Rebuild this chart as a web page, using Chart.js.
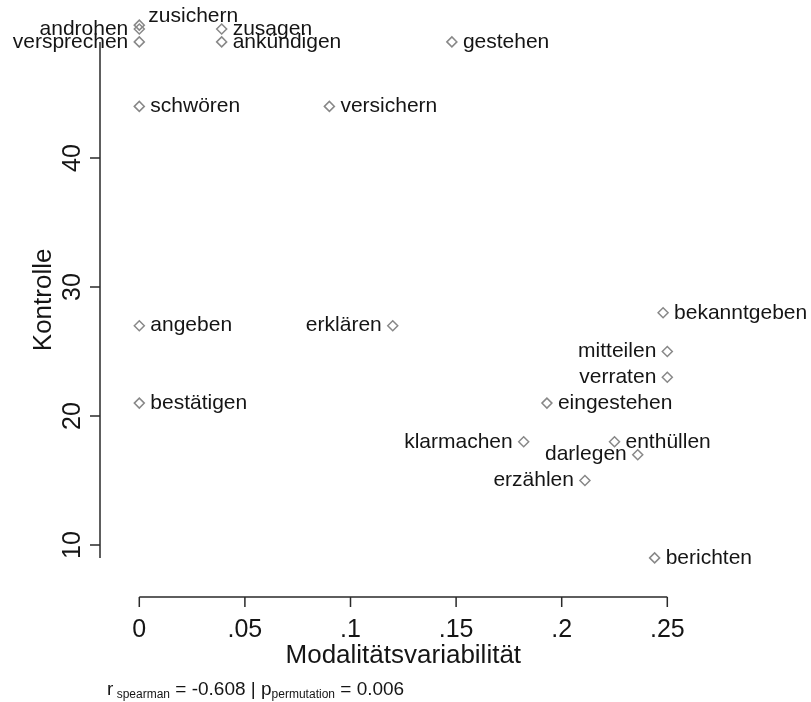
<!DOCTYPE html>
<html>
<head>
<meta charset="utf-8">
<script src="https://cdn.jsdelivr.net/npm/chart.js@4/dist/chart.umd.min.js"></script>
<style>
  body { margin: 0; background: #fff; }
  canvas { display: block; }
</style>
</head>
<body>
<canvas id="myChart" width="811" height="702"></canvas>
<script>
// Daten //
const verben = ['androhen', 'versprechen', 'zusichern', 'zusagen', 'ankündigen', 'gestehen',
    'schwören', 'versichern', 'angeben', 'erklären', 'bestätigen', 'bekanntgeben',
    'mitteilen', 'verraten', 'eingestehen', 'klarmachen', 'enthüllen', 'darlegen',
    'erzählen', 'berichten'];
const modalitaet = [0, 0, 0, 0.039, 0.039, 0.148,
    0, 0.09, 0, 0.12, 0, 0.248,
    0.25, 0.25, 0.193, 0.182, 0.225, 0.236,
    0.211, 0.244];
const kontrolle = [50, 49, 50.3, 50, 49, 49,
    44, 44, 27, 27, 21, 28,
    25, 23, 21, 18, 18, 17,
    15, 9];
// where the label sits: r = right, l = left, ur = above right
const labelSeite = ['l', 'l', 'ur', 'r', 'r', 'r',
    'r', 'r', 'r', 'l', 'r', 'r',
    'l', 'l', 'r', 'l', 'r', 'l',
    'l', 'r'];
const xTicks = [0, 0.05, 0.1, 0.15, 0.2, 0.25];
const xTickLabels = ['0', '.05', '.1', '.15', '.2', '.25'];
const yTicks = [10, 20, 30, 40];
const yLinie = [9, 49];

const schrift = '"Liberation Sans", Arial, sans-serif';

const achsen = {
    id: 'achsen',
    afterDraw(chart) {
        const c = chart.ctx;
        const xs = chart.scales.x;
        const ys = chart.scales.y;
        const unten = chart.chartArea.bottom;
        const links = chart.chartArea.left;
        c.save();
        c.strokeStyle = '#2a2a2a';
        c.lineWidth = 1.5;
        c.fillStyle = '#151515';

        // x Achse
        c.beginPath();
        c.moveTo(xs.getPixelForValue(xTicks[0]), unten);
        c.lineTo(xs.getPixelForValue(xTicks[xTicks.length - 1]), unten);
        xTicks.forEach(v => {
            const px = xs.getPixelForValue(v);
            c.moveTo(px, unten);
            c.lineTo(px, unten + 10);
        });
        c.stroke();
        c.font = '25px ' + schrift;
        c.textAlign = 'center';
        c.textBaseline = 'alphabetic';
        xTicks.forEach((v, i) => {
            c.fillText(xTickLabels[i], xs.getPixelForValue(v), 637);
        });
        c.font = '26px ' + schrift;
        c.fillText('Modalitätsvariabilität',
            (xs.getPixelForValue(xTicks[0]) + xs.getPixelForValue(xTicks[xTicks.length - 1])) / 2, 663);

        // y Achse
        c.beginPath();
        c.moveTo(links, ys.getPixelForValue(yLinie[0]));
        c.lineTo(links, ys.getPixelForValue(yLinie[1]));
        yTicks.forEach(v => {
            const py = ys.getPixelForValue(v);
            c.moveTo(links, py);
            c.lineTo(links - 10, py);
        });
        c.stroke();
        c.font = '25px ' + schrift;
        yTicks.forEach(v => {
            c.save();
            c.translate(80, ys.getPixelForValue(v));
            c.rotate(-Math.PI / 2);
            c.fillText(String(v), 0, 0);
            c.restore();
        });
        c.save();
        c.font = '26px ' + schrift;
        c.translate(51, (ys.getPixelForValue(yLinie[0]) + ys.getPixelForValue(yLinie[1])) / 2);
        c.rotate(-Math.PI / 2);
        c.fillText('Kontrolle', 0, 0);
        c.restore();

        // Beschriftung der Punkte
        c.font = '21px ' + schrift;
        c.textBaseline = 'middle';
        verben.forEach((w, i) => {
            const px = xs.getPixelForValue(modalitaet[i]);
            const py = ys.getPixelForValue(kontrolle[i]);
            if (labelSeite[i] == 'l') {
                c.textAlign = 'right';
                c.fillText(w, px - 11, py);
            } else if (labelSeite[i] == 'ur') {
                c.textAlign = 'left';
                c.fillText(w, px + 9, py - 9);
            } else {
                c.textAlign = 'left';
                c.fillText(w, px + 11, py);
            }
        });

        // Fusszeile
        c.textAlign = 'left';
        c.textBaseline = 'alphabetic';
        let x = 107;
        const teile = [
            ['r', 19, 695], [' ', 12, 698], ['spearman', 12, 698],
            [' = -0.608 | p', 19, 695], ['permutation', 12, 698], [' = 0.006', 19, 695]
        ];
        teile.forEach(t => {
            c.font = t[1] + 'px ' + schrift;
            c.fillText(t[0], x, t[2]);
            x += c.measureText(t[0]).width;
        });
        c.restore();
    }
};

const ctx = document.getElementById('myChart');

new Chart(ctx, {
    type: 'scatter',
    data: {
        datasets: [{
            label: 'Verben',
            data: modalitaet.map((v, i) => ({ x: v, y: kontrolle[i] })),
            pointStyle: 'rectRot',
            pointRadius: 5,
            pointHoverRadius: 5,
            borderColor: '#888888',
            borderWidth: 1.5,
            backgroundColor: 'rgba(0,0,0,0)'
        }]
    },
    options: {
        responsive: false,
        animation: false,
        devicePixelRatio: 1,
        layout: {
            padding: { left: 100, right: 111, top: 10, bottom: 105 }
        },
        plugins: {
            legend: { display: false },
            tooltip: { enabled: false }
        },
        scales: {
            x: {
                type: 'linear',
                display: false,
                min: -0.018608,
                max: 0.26548
            },
            y: {
                type: 'linear',
                display: false,
                min: 5.969,
                max: 51.473
            }
        }
    },
    plugins: [achsen]
});
</script>
</body>
</html>
